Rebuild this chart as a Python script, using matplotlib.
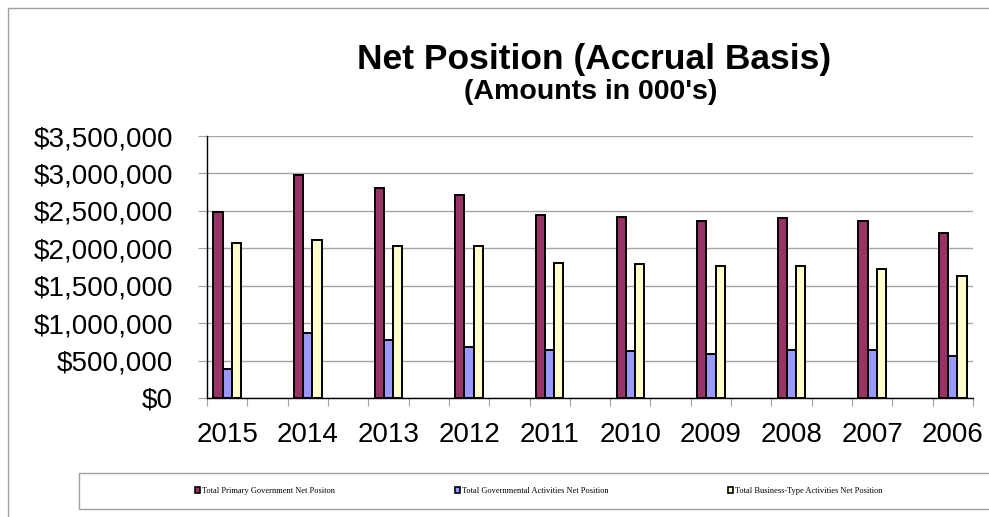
import numpy as np
import matplotlib.pyplot as plt
from matplotlib.patches import Patch, Rectangle
from matplotlib.ticker import FuncFormatter, MultipleLocator

plt.rcParams['font.family'] = 'Liberation Sans'

years = ['2015', '2014', '2013', '2012', '2011', '2010', '2009', '2008', '2007', '2006']
primary_gov = [2480000, 2982000, 2804000, 2710000, 2443000, 2417000, 2359000, 2408000, 2359000, 2203000]
governmental = [387000, 868000, 774000, 676000, 636000, 623000, 587000, 636000, 636000, 565000]
business_type = [2074000, 2109000, 2025000, 2025000, 1802000, 1789000, 1767000, 1767000, 1722000, 1633000]

labels = ['Total Primary Government Net Positon',
          'Total Governmental Activities Net Position',
          'Total Business-Type Activities Net Position']
colors = ['#993366', '#9999FF', '#FFFFCC']

fig = plt.figure(figsize=(9.89, 5.17), dpi=100)
ax = fig.add_axes([0.2093, 0.2302, 0.7745, 0.5067])

index = np.arange(len(years))
bar_width = 0.114
for i, (vals, c) in enumerate(zip([primary_gov, governmental, business_type], colors)):
    ax.bar(index + (i - 1) * bar_width, vals, bar_width, color=c,
           edgecolor='black', linewidth=1.4, zorder=3)

ax.set_xlim(-0.25, len(years) - 0.75)
ax.set_ylim(0, 3500000)

# tick marks between groups, labels at group centres
ax.set_xticks(np.arange(-0.25, len(years) - 0.5, 0.5))
ax.set_xticklabels([])
ax.set_xticks(index, minor=True)
ax.set_xticklabels(years, minor=True, fontsize=20)
ax.tick_params(axis='x', which='major', length=6, color='#a0a0a0', direction='out')
ax.tick_params(axis='x', which='minor', length=0, pad=17)

ax.yaxis.set_major_locator(MultipleLocator(500000))
ax.yaxis.set_major_formatter(FuncFormatter(lambda v, p: '${:,.0f}'.format(v)))
ax.tick_params(axis='y', labelsize=20, length=6.5, color='#a0a0a0', pad=18)

ax.grid(axis='y', color='#a6a6a6', linewidth=1, zorder=0)
for s in ['top', 'right']:
    ax.spines[s].set_visible(False)
for s in ['left', 'bottom']:
    ax.spines[s].set_color('black')
    ax.spines[s].set_linewidth(1)
    ax.spines[s].set_zorder(4)

fig.text(0.6006, 1 - 69.3 / 517, 'Net Position (Accrual Basis)', ha='center', va='baseline',
         fontsize=25.5, fontweight='bold')
fig.text(0.597, 1 - 99 / 517, "(Amounts in 000's)", ha='center', va='baseline',
         fontsize=20.5, fontweight='bold')

# chart border and legend box
fig.patches.append(Rectangle((8 / 989, -0.1), 1.1, 1.1 - 8 / 517, transform=fig.transFigure,
                             fill=False, edgecolor='#a0a0a0', linewidth=1))
fig.patches.append(Rectangle((79 / 989, 1 - 509 / 517), 0.931, 36 / 517, transform=fig.transFigure,
                             fill=False, edgecolor='#a0a0a0', linewidth=1))

handles = [Patch(facecolor=c, edgecolor='black', linewidth=1.2) for c in colors]
fig.legend(handles, labels, ncol=3, loc='center', bbox_to_anchor=(539 / 989, 1 - 491 / 517),
           frameon=False, prop={'family': 'Liberation Serif', 'size': 6},
           handlelength=0.6, handleheight=0.6, handletextpad=0.2, columnspacing=14.4)

fig.savefig('out.png', dpi=100)
